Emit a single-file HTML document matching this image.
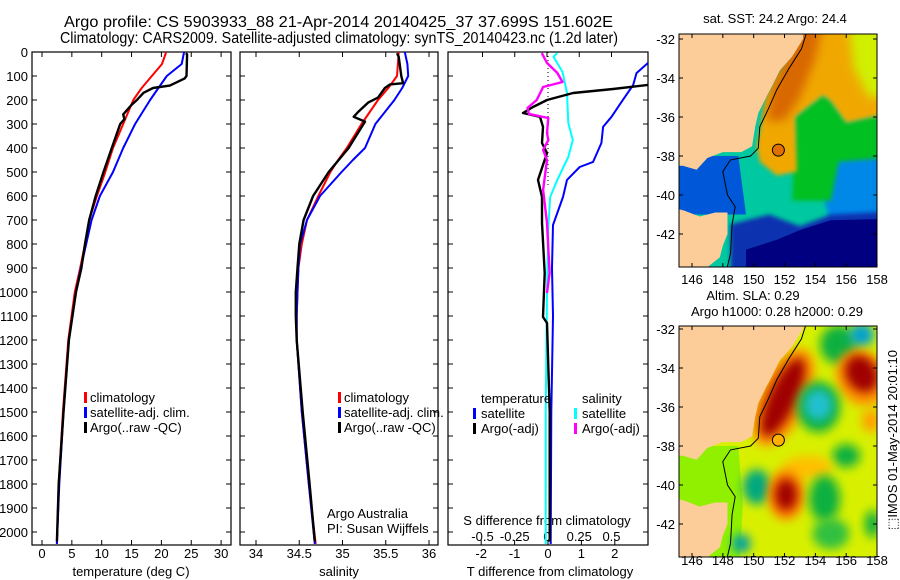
<!DOCTYPE html>
<html><head><meta charset="utf-8"><style>
html,body{margin:0;padding:0;background:#fff;}
svg{display:block;font-family:"Liberation Sans",sans-serif;}
text{font-size:13px;fill:#000;}
</style></head><body>
<svg id="fig" width="900" height="580" viewBox="0 0 900 580">
<defs>
<clipPath id="c1"><rect x="32" y="52" width="199" height="493"/></clipPath>
<clipPath id="c2"><rect x="240" y="52" width="198" height="493"/></clipPath>
<clipPath id="c3"><rect x="448" y="52" width="200" height="493"/></clipPath>
<clipPath id="cm1"><rect x="679" y="34" width="198" height="233"/></clipPath>
<clipPath id="cm2"><rect x="679" y="326" width="198" height="231"/></clipPath>
<filter id="bl" x="-50%" y="-50%" width="200%" height="200%"><feGaussianBlur stdDeviation="5"/></filter>
<filter id="bl2" x="-50%" y="-50%" width="200%" height="200%"><feGaussianBlur stdDeviation="2"/></filter>
</defs>
<text x="64" y="27" textLength="549" lengthAdjust="spacingAndGlyphs" style="font-size:15.5px">Argo profile: CS 5903933_88 21-Apr-2014 20140425_37 37.699S 151.602E</text>
<text x="60" y="43" textLength="558" lengthAdjust="spacingAndGlyphs" style="font-size:15.5px">Climatology: CARS2009. Satellite-adjusted climatology: synTS_20140423.nc (1.2d later)</text>
<g id="g1"></g>
<g id="g2"></g>
<g id="g3"></g>
<g id="m1"></g>
<g id="m2"></g>
<text x="775" y="23" text-anchor="middle">sat. SST: 24.2 Argo: 24.4</text>
<text x="753" y="300" text-anchor="middle">Altim. SLA: 0.29</text>
<text x="777" y="316" text-anchor="middle">Argo h1000: 0.28 h2000: 0.29</text>
<text transform="translate(897,440) rotate(-90)" text-anchor="middle">⬚IMOS 01-May-2014 20:01:10</text>
</svg>
<script>
// ---- data ----
const depthTicks = [0,100,200,300,400,500,600,700,800,900,1000,1100,1200,1300,1400,1500,1600,1700,1800,1900,2000];
const tTicks = [0,5,10,15,20,25,30];
const sTicks = [34,34.5,35,35.5,36];
const sTickLabels = ["34","34.5","35","35.5","36"];
const dtTicks = [-2,-1,0,1,2];
const dsTicks = [-0.5,-0.25,0,0.25,0.5];
const dsTickLabels = ["-0.5","-0.25","0","0.25","0.5"];

const tDepth = [0,50,100,150,200,300,400,500,600,700,800,900,1000,1200,1500,1800,2050];
const tClim = [20.8,20.1,18.4,16.7,15.3,13.6,11.9,10.6,9.2,7.9,7.2,6.4,5.5,4.4,3.5,2.8,2.5];
const tSat = [23.8,23.4,20.9,19.5,18.1,15.6,13.6,11.9,9.7,8.3,7.4,6.5,5.7,4.5,3.6,2.9,2.5];
const argoTDepth = [5,10,100,110,140,150,170,200,220,260,280,300,400,500,600,700,800,900,1000,1200,1500,1800,2040];
const argoT = [24.1,24.3,24.2,23.9,21.4,18.6,17.0,15.9,15.0,13.6,13.8,13.1,11.7,10.3,9.0,7.9,7.2,6.6,5.7,4.5,3.6,2.8,2.5];

const sDepth = [0,50,100,150,200,300,400,450,500,600,700,800,900,1000,1100,1200,1500,1800,2050];
const sClim = [35.65,35.64,35.63,35.53,35.41,35.22,35.05,34.95,34.86,34.72,34.59,34.53,34.49,34.48,34.47,34.47,34.53,34.61,34.69];
const sSat = [35.72,35.75,35.76,35.69,35.60,35.38,35.26,35.12,34.99,34.74,34.59,34.51,34.49,34.48,34.47,34.47,34.53,34.61,34.68];
const argoSDepth = [5,20,100,130,135,150,190,210,250,270,290,400,500,600,700,800,900,1000,1100,1200,1500,1800,2040];
const argoS = [35.63,35.65,35.68,35.70,35.55,35.49,35.41,35.30,35.18,35.13,35.26,35.07,34.84,34.66,34.55,34.50,34.48,34.46,34.46,34.47,34.54,34.62,34.68];

const dtSatDepth = [20,88,137,208,270,312,379,458,479,533,604,721,900,1100,1500,2050];
const dtSat = [3.2,2.65,2.55,2.2,1.9,1.65,1.6,1.35,0.95,0.57,0.45,0.15,0.12,0.15,0.1,0.08];
const dtArgoDepth = [130,137,154,171,200,229,254,270,312,379,421,533,604,712,921,1104,1129,1500,2040];
const dtArgo = [3.6,3.0,1.95,0.75,-0.03,-0.45,-0.75,-0.24,-0.15,-0.18,-0.03,-0.3,-0.18,-0.18,-0.1,-0.15,-0.03,0.05,0.05];
const dsSatDepth = [4,20,83,171,296,367,437,533,604,729,1000,1500,2050];
const dsSat = [0.08,0.05,0.12,0.155,0.165,0.2,0.165,0.08,0.025,0.01,0.0,-0.01,-0.01];
const dsArgoDepth = [4,46,87,125,146,200,233,258,275,337,367,408,450,575,712,921,1004];
const dsArgo = [-0.04,0,0.08,0.12,-0.03,-0.08,-0.15,-0.14,0.01,0,0.01,-0.03,0,-0.03,0,0.02,0];

const lonTicks = [146,148,150,152,154,156,158];
const latTicks = [-32,-34,-36,-38,-40,-42];
const argoLon = 151.602, argoLat = -37.699;

// ---- helpers ----
const NS = "http://www.w3.org/2000/svg";
function mk(tag, attrs, parent){const e=document.createElementNS(NS,tag);for(const k in attrs)e.setAttribute(k,attrs[k]);parent.appendChild(e);return e;}
const yD = d => 52 + d*0.24;
const xT = v => 42 + v*5.97;
const xS = v => 256 + (v-34)*86.5;
const xDT = v => 548 + v*33.4;
const xDS = v => 547 + v*129;

function frame(g,x0,x1,name){
  const r=mk('rect',{x:x0,y:52,width:x1-x0,height:493,fill:'none',stroke:'#000','stroke-width':1.2},g);
  
  
  depthTicks.forEach(d=>{
    const t=mk('path',{d:`M${x0} ${yD(d)}h5M${x1} ${yD(d)}h-5`,stroke:'#000','stroke-width':1},g);
    
    
  });
}
function xticks(g,vals,fx,labels,name,bottomOnly){
  vals.forEach((v,i)=>{
    const x=fx(v);
    const t=mk('path',{d:bottomOnly?`M${x} 545v-5`:`M${x} 52v5M${x} 545v-5`,stroke:'#000'},g);
    
    
    const l=mk('text',{x:x,y:558,'text-anchor':'middle'},g);l.textContent=labels[i];
    
    
  });
}
function line(g,xs,ds,fx,color,w,clip,name){
  const pts=xs.map((v,i)=>fx(v).toFixed(1)+','+yD(ds[i]).toFixed(1)).join(' ');
  const p=mk('polyline',{points:pts,fill:'none',stroke:color,'stroke-width':w,'clip-path':'url(#'+clip+')','stroke-linejoin':'round'},g);
  
  
}
function txt(g,x,y,s,name,anchor){
  const t=mk('text',{x:x,y:y,'text-anchor':anchor||'start'},g);t.textContent=s;
  
  
  return t;
}
function legMark(g,x,y,color,name){
  const r=mk('rect',{x:x,y:y-10,width:3,height:11,fill:color},g);
  
  
}

// ---- panel 1 ----
const g1=document.getElementById('g1');
frame(g1,32,231,'temperature');
depthTicks.forEach(d=>{const l=txt(g1,28,yD(d)+5,String(d),'depth-tick-label','end');});
xticks(g1,tTicks,xT,tTicks.map(String),'temperature');
txt(g1,131,576,'temperature (deg C)','temperature-axis-title','middle');
line(g1,tClim,tDepth,xT,'#ff0000',2,'c1','temperature-climatology-line');
line(g1,tSat,tDepth,xT,'#0000ff',2,'c1','temperature-satellite-line');
line(g1,argoT,argoTDepth,xT,'#000000',2.4,'c1','temperature-argo-line');
legMark(g1,84,402,'#ff0000','legend-climatology-marker');txt(g1,90,402,'climatology','legend-climatology');
legMark(g1,84,417,'#0000ff','legend-satellite-marker');txt(g1,90,417,'satellite-adj. clim.','legend-satellite');
legMark(g1,84,432,'#000','legend-argo-marker');txt(g1,90,432,'Argo(..raw -QC)','legend-argo');

// ---- panel 2 ----
const g2=document.getElementById('g2');
frame(g2,240,438,'salinity');
xticks(g2,sTicks,xS,sTickLabels,'salinity');
txt(g2,339,576,'salinity','salinity-axis-title','middle');
line(g2,sClim,sDepth,xS,'#ff0000',2,'c2','salinity-climatology-line');
line(g2,sSat,sDepth,xS,'#0000ff',2,'c2','salinity-satellite-line');
line(g2,argoS,argoSDepth,xS,'#000000',2.4,'c2','salinity-argo-line');
legMark(g2,338,402,'#ff0000','legend-s-climatology-marker');txt(g2,344,402,'climatology','legend-s-climatology');
legMark(g2,338,417,'#0000ff','legend-s-satellite-marker');txt(g2,344,417,'satellite-adj. clim.','legend-s-satellite');
legMark(g2,338,432,'#000','legend-s-argo-marker');txt(g2,344,432,'Argo(..raw -QC)','legend-s-argo');
txt(g2,327,518,'Argo Australia','credit-line-1');
txt(g2,327,533,'PI: Susan Wijffels','credit-line-2');

// ---- panel 3 ----
const g3=document.getElementById('g3');
frame(g3,448,648,'difference');
xticks(g3,dtTicks,xDT,dtTicks.map(String),'t-difference',true);
dsTicks.forEach(v=>{const t=mk('path',{d:`M${xDS(v)} 52v5`,stroke:'#000'},g3);});
dsTicks.forEach((v,i)=>{txt(g3,xDS(v),541,dsTickLabels[i],'s-difference-tick-label','middle');});
txt(g3,547,525,'S difference from climatology','s-difference-axis-title','middle');
txt(g3,550,576,'T difference from climatology','t-difference-axis-title','middle');
const zl=mk('line',{x1:xDT(0),y1:52,x2:xDT(0),y2:yD(560),stroke:'#000','stroke-width':1,'stroke-dasharray':'1,3'},g3);


line(g3,dtSat,dtSatDepth,xDT,'#0000ff',2,'c3','t-diff-satellite-line');
line(g3,dsSat,dsSatDepth,xDS,'#00ffff',2,'c3','s-diff-satellite-line');
line(g3,dtArgo,dtArgoDepth,xDT,'#000000',2.4,'c3','t-diff-argo-line');
line(g3,dsArgo,dsArgoDepth,xDS,'#ff00ff',2.4,'c3','s-diff-argo-line');
txt(g3,481,403,'temperature','legend-temperature-header');
legMark(g3,473,418,'#0000ff','legend-t-satellite-marker');txt(g3,481,418,'satellite','legend-t-satellite');
legMark(g3,473,433,'#000','legend-t-argo-marker');txt(g3,481,433,'Argo(-adj)','legend-t-argo');
txt(g3,582,403,'salinity','legend-salinity-header');
legMark(g3,574,418,'#00ffff','legend-s-sat-marker');txt(g3,582,418,'satellite','legend-s-sat');
legMark(g3,574,433,'#ff00ff','legend-s-argo-diff-marker');txt(g3,582,433,'Argo(-adj)','legend-s-argo-diff');

// ---- maps ----
const land=[[145,-30],[153.3,-30],[153.2,-32],[152.5,-32.9],[151.7,-33.6],[151.2,-34.4],[150.8,-35],[150.3,-35.8],[150.1,-36.5],[149.9,-37.5],[149.2,-37.8],[148,-37.8],[147,-38.1],[146.3,-38.7],[145.4,-38.5],[145,-38.5]];
const tas=[[145,-40.7],[145.5,-40.8],[146.5,-41.1],[147.5,-40.9],[148.3,-40.9],[148.3,-42],[148,-42.6],[147.8,-43.2],[147,-43.7],[145,-43.7]];
const shelf=[[153.5,-31.5],[153.1,-32.5],[152.3,-33.5],[151.5,-34.6],[151,-35.5],[150.4,-36.5],[150.3,-37.6],[149.8,-38],[148.5,-38.2],[148,-38.8],[148.3,-40],[148.8,-40.6],[148.6,-41.5],[148.5,-43],[148.2,-44]];
function mapAxes(g,top,lat0y,name){
  const px=lo=>692+(lo-146)*15.42, py=la=>lat0y+(-32-la)*19.5;
  return {px,py,poly:(pts)=>pts.map(p=>px(p[0]).toFixed(1)+','+py(p[1]).toFixed(1)).join(' ')};
}
function drawMap(id,top,bottom,lat0y,clip,layers,dotColor,name,labelsY){
  const g=document.getElementById(id);
  const A=mapAxes(g,top,lat0y,name);
  const inner=mk('g',{'clip-path':'url(#'+clip+')'},g);
  layers(inner,A);
  const s=mk('polygon',{points:A.poly(land),fill:'#fccc99'},inner);
  
  
  const t=mk('polygon',{points:A.poly(tas),fill:'#fccc99'},inner);
  
  
  const iso=mk('polyline',{points:A.poly(shelf),fill:'none',stroke:'#000','stroke-width':1},inner);
  
  
  const dot=mk('circle',{cx:A.px(argoLon),cy:A.py(argoLat),r:6,fill:dotColor,stroke:'#000','stroke-width':1},inner);
  
  
  const fr=mk('rect',{x:679,y:top,width:198,height:bottom-top,fill:'none',stroke:'#000'},g);
  
  
  lonTicks.forEach(lo=>{
    const tk=mk('path',{d:`M${A.px(lo)} ${top}v4M${A.px(lo)} ${bottom}v-4`,stroke:'#000'},g);
    
    
    txt(g,A.px(lo),labelsY,String(lo),name+'-lon-label','middle');
  });
  latTicks.forEach(la=>{
    const tk=mk('path',{d:`M679 ${A.py(la)}h4M877 ${A.py(la)}h-4`,stroke:'#000'},g);
    
    
    txt(g,675,A.py(la)+5,String(la),name+'-lat-label','end');
  });
}
function poly(g,A,pts,fill,name,filt){
  const p=mk('polygon',{points:A.poly(pts),fill:fill},g);
  if(filt)p.setAttribute('filter','url(#'+filt+')');
  
  
}
function blob(g,A,lo,la,rx,ry,rot,fill,name){
  const e=mk('ellipse',{cx:A.px(lo),cy:A.py(la),rx:rx*15.42,ry:ry*19.5,fill:fill,filter:'url(#bl)',transform:`rotate(${rot} ${A.px(lo)} ${A.py(la)})`},g);
  
  
}
drawMap('m1',34,267,39,'cm1',(g,A)=>{
  poly(g,A,[[144,-30],[160,-30],[160,-45],[144,-45]],'#00c8a0','sst-base');
  poly(g,A,[[144,-38],[149,-38],[149.5,-41],[144,-41]],'#0058d8','sst-bass-strait',null);
  poly(g,A,[[155.5,-38],[160,-37.5],[160,-41.5],[155,-41.5],[154.5,-40]],'#0088e8','sst-east-blue','bl2');
  poly(g,A,[[148.5,-41.5],[151,-41],[153,-41.6],[155,-41],[160,-40.8],[160,-45],[148.5,-45]],'#1030b0','sst-south-blue','bl2');
  poly(g,A,[[149.5,-42.8],[151.5,-42.3],[153,-41.8],[155,-41.3],[160,-41.2],[160,-45],[149.5,-45]],'#000080','sst-navy');
  poly(g,A,[[153.5,-35.5],[154.5,-34.9],[155,-35.2],[156,-36.3],[160,-35.6],[160,-38],[155.5,-38.3],[155,-40.3],[152.5,-40.3],[152.7,-36]],'#00c020','sst-green-water','bl2');
  poly(g,A,[[153.2,-30],[160,-30],[160,-35.6],[156,-36.3],[155,-35.2],[154.5,-34.9],[153.5,-35.5],[152.7,-36],[152.8,-38.8],[151.5,-39],[150.4,-38.3],[150.2,-37.5],[150.8,-35],[151.6,-33.8],[152.6,-32.8]],'#f0a800','sst-warm-water','bl2');
  poly(g,A,[[156,-30],[160,-30],[160,-34.8],[157.5,-35],[156.5,-33.5]],'#d0f000','sst-yellow-ne','bl');
  poly(g,A,[[153.2,-31],[154.5,-31],[154,-33],[153,-35],[152,-36.2],[150.8,-36.2],[151.2,-34.5]],'#d86800','sst-warm-core','bl');
},'#e07000','sst-map',284);
drawMap('m2',326,557,329,'cm2',(g,A)=>{
  poly(g,A,[[144,-30],[160,-30],[160,-45],[144,-45]],'#d8f000','sla-base');
  poly(g,A,[[144,-38],[149,-38],[149.3,-41],[149,-45],[144,-45]],'#90f000','sla-shelf');
  blob(g,A,155.5,-32.8,1.2,1.0,0,'#10b040','sla-green-north');
  blob(g,A,157,-32.3,0.8,0.6,0,'#00a0d0','sla-cyan-ne');
  blob(g,A,151.9,-35.5,1.6,2.7,25,'#ff9000','sla-orange-eddy');
  blob(g,A,151.9,-35.5,0.9,2.2,25,'#a00000','sla-red-eddy');
  blob(g,A,157,-34.5,1.6,1.5,-30,'#ff9000','sla-orange-ne');
  blob(g,A,157,-34.3,1.0,1.0,-30,'#a00000','sla-red-ne');
  blob(g,A,154.2,-36,1.4,1.3,0,'#10b040','sla-green-ring');
  blob(g,A,154.2,-35.9,0.9,0.8,0,'#20c0d0','sla-cyan-eddy');
  blob(g,A,157.6,-36.7,0.6,0.6,0,'#ffa000','sla-orange-east');
  blob(g,A,156,-38.5,0.9,0.6,0,'#10b040','sla-green-east');
  blob(g,A,153.5,-39.1,1.6,0.6,0,'#ffc000','sla-yellow-band');
  blob(g,A,150.2,-40.1,0.9,0.9,0,'#00a880','sla-green-west');
  blob(g,A,152.1,-40.5,1.2,1.3,0,'#ff8000','sla-orange-south');
  blob(g,A,152.1,-40.5,0.7,0.8,0,'#a00000','sla-red-south');
  blob(g,A,154.6,-40.7,1.0,1.2,0,'#10b040','sla-green-south');
  blob(g,A,155,-42.5,1.2,0.8,0,'#30c040','sla-green-se');
  blob(g,A,149.2,-43,0.6,0.5,0,'#00a0a0','sla-teal-sw');
  blob(g,A,157.7,-42,0.5,0.7,0,'#10b040','sla-green-far-se');
},'#ffb000','sla-map',565);
</script>
</body></html>
